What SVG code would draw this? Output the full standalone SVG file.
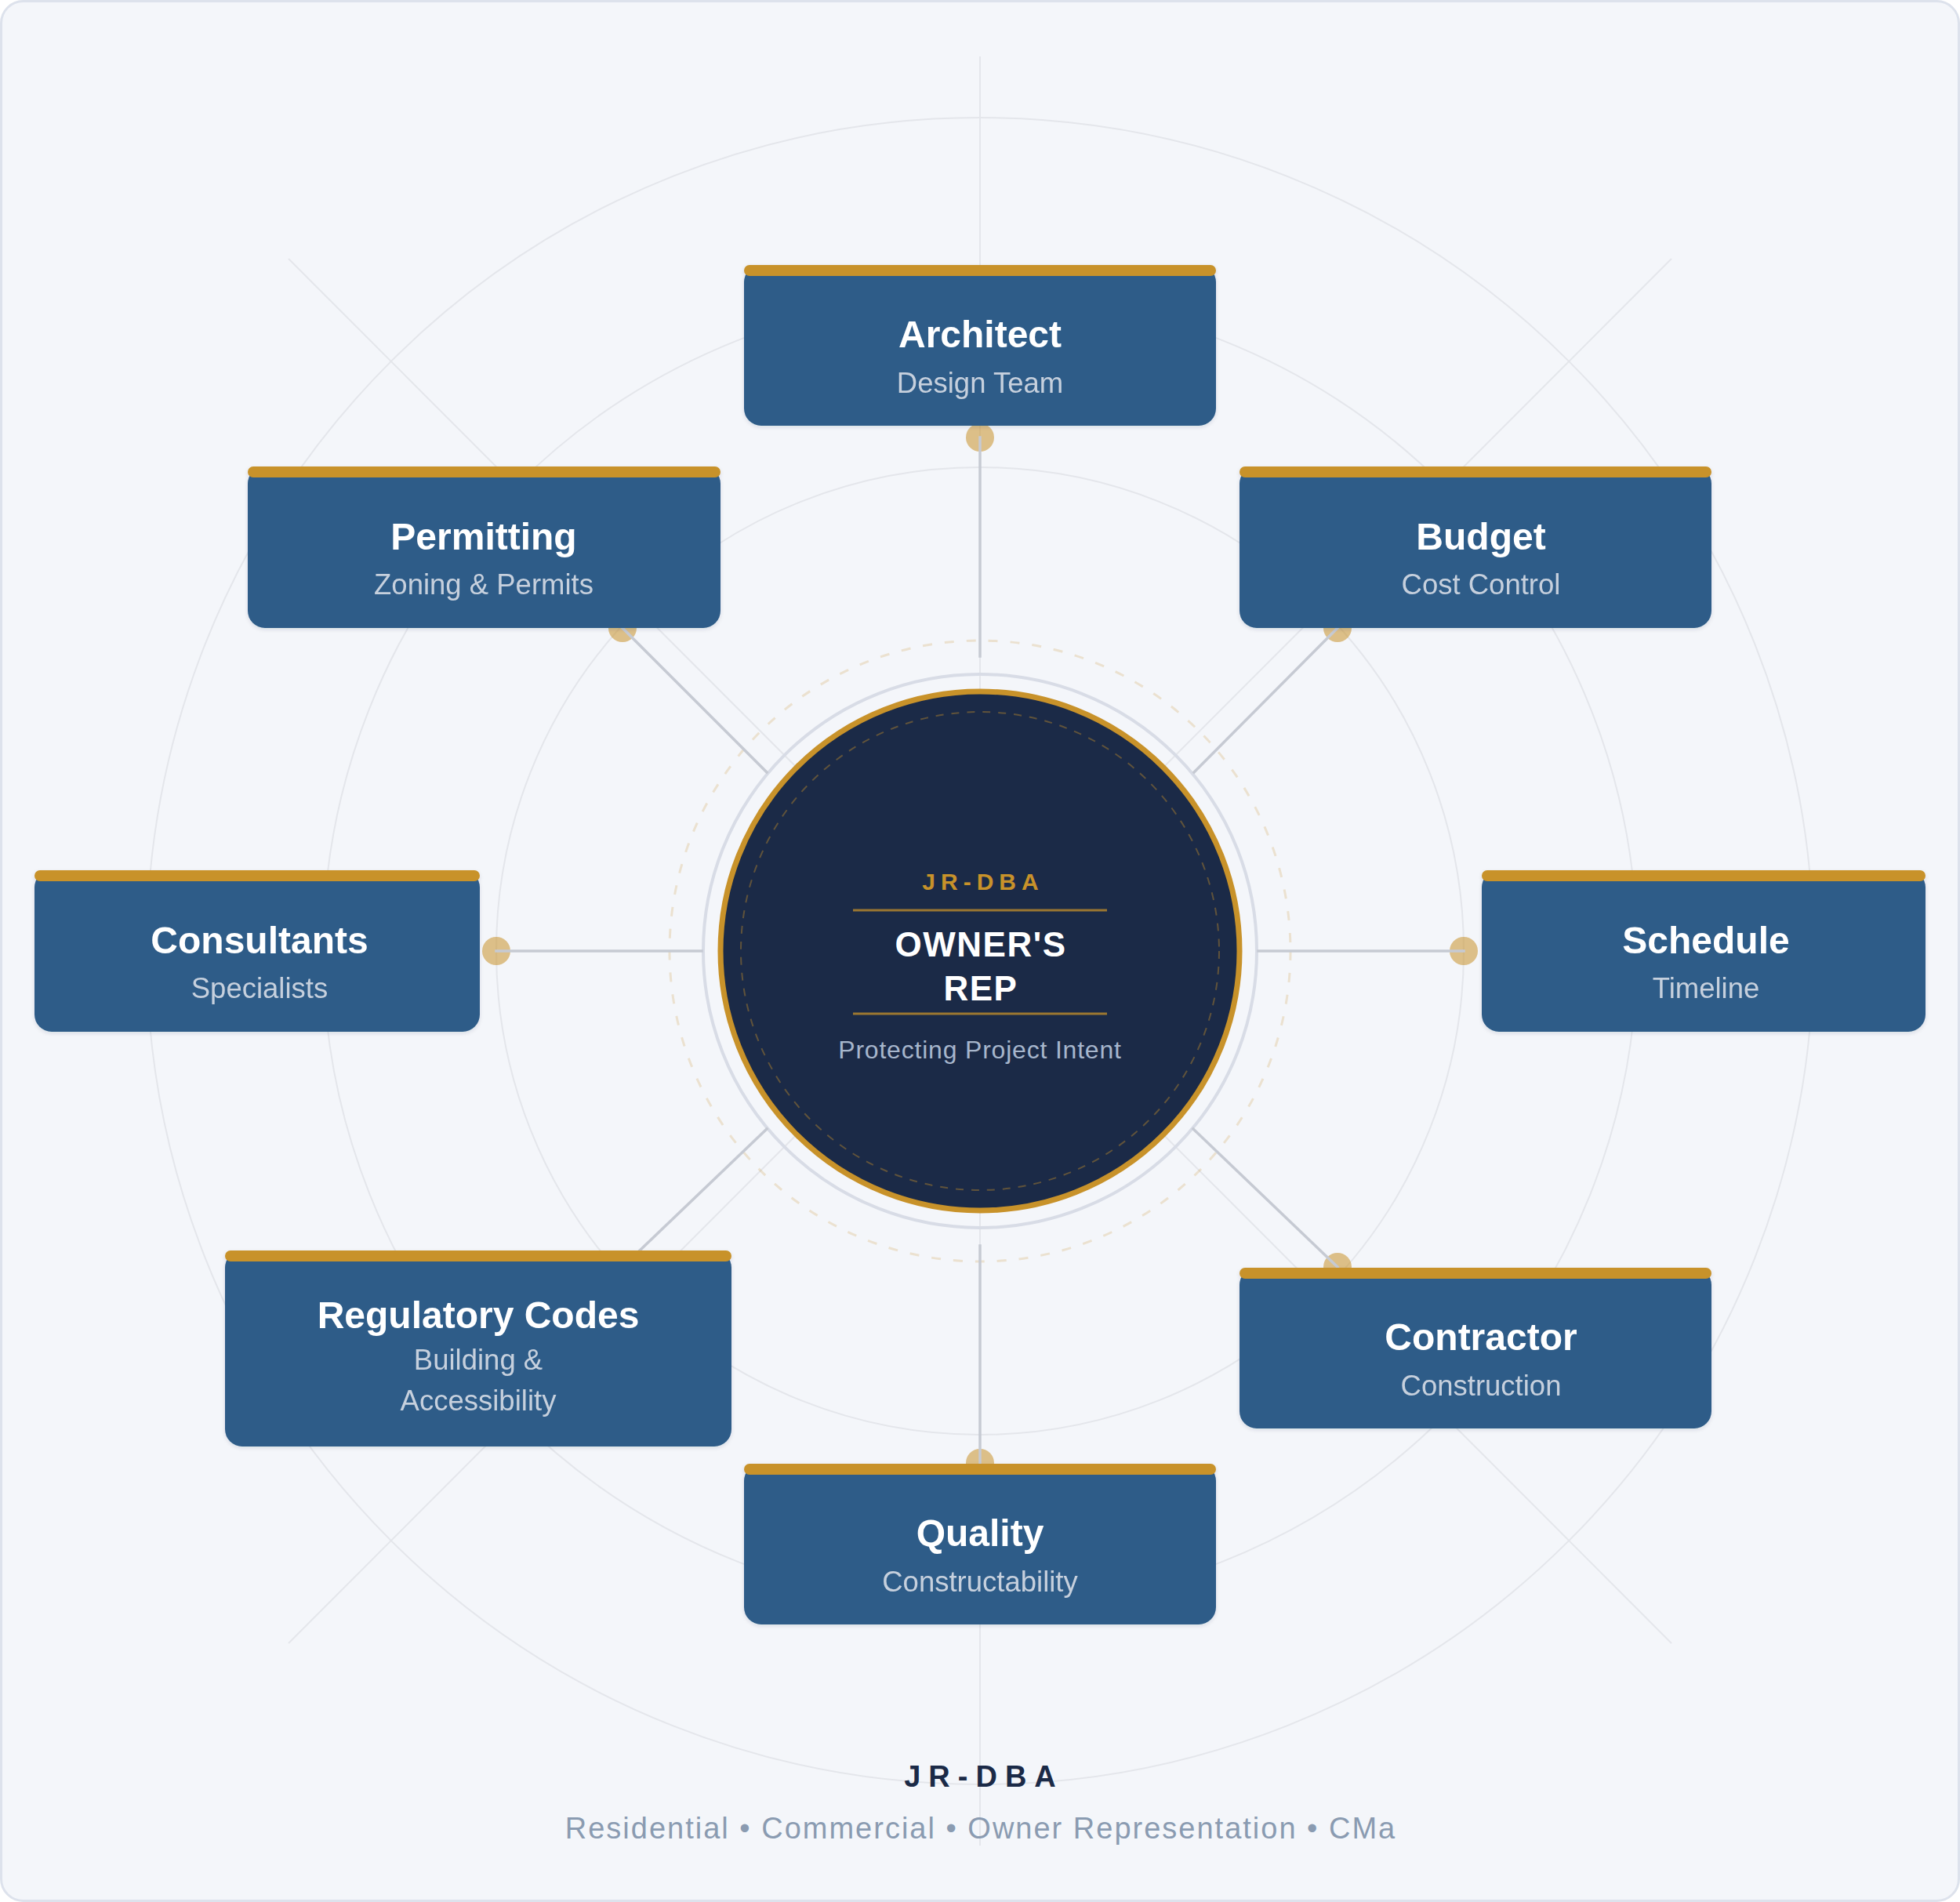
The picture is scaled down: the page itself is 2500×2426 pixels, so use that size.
<svg xmlns="http://www.w3.org/2000/svg" width="2500" height="2426" viewBox="0 0 2500 2426">
<defs>
<style>
.ring{fill:none;stroke:#e4e6eb;stroke-width:2}
.ray{stroke:#e4e6eb;stroke-width:2}
.conn{stroke:#c6cad3;stroke-width:3.5;stroke-linecap:square}
.dot{fill:#c8922a;fill-opacity:0.55}
.body{fill:#2d5b88}
.bar{fill:#c8922a}
.title{font-family:"Liberation Sans",Arial,sans-serif;font-weight:bold;font-size:48px;fill:#ffffff;text-anchor:middle}
.sub{font-family:"Liberation Sans",Arial,sans-serif;font-size:36.5px;fill:#c6d0dd;text-anchor:middle}
</style>
<filter id="sh" x="-5%" y="-10%" width="110%" height="130%">
<feDropShadow dx="0" dy="2" stdDeviation="2.5" flood-color="#1b2a47" flood-opacity="0.12"/>
</filter>
</defs>

<rect x="1.5" y="1.5" width="2497" height="2423" rx="28" fill="#f4f6fa" stroke="#dde2ec" stroke-width="3"/>

<g id="background">
<circle class="ring" cx="1250" cy="1213" r="1063"/>
<circle class="ring" cx="1250" cy="1213" r="838"/>
<circle class="ring" cx="1250" cy="1213" r="617"/>
<line class="ray" x1="1250" y1="72" x2="1250" y2="2354"/>
<line class="ray" x1="368" y1="330" x2="2132" y2="2096"/>
<line class="ray" x1="2132" y1="330" x2="368" y2="2096"/>
<circle cx="1250" cy="1213" r="396" fill="none" stroke="#c8922a" stroke-opacity="0.2" stroke-width="3" stroke-dasharray="12 16"/>
<circle cx="1250" cy="1213" r="353" fill="none" stroke="#d8dce6" stroke-width="4"/>
</g>

<g id="connectors">
<circle class="dot" cx="1250" cy="558" r="18"/>
<circle class="dot" cx="1706" cy="801" r="18"/>
<circle class="dot" cx="1867" cy="1213" r="18"/>
<circle class="dot" cx="1706" cy="1616" r="18"/>
<circle class="dot" cx="1250" cy="1866" r="18"/>
<circle class="dot" cx="794" cy="1616" r="18"/>
<circle class="dot" cx="633" cy="1213" r="18"/>
<circle class="dot" cx="794" cy="801" r="18"/>
<line class="conn" x1="1250" y1="837" x2="1250" y2="558"/>
<line class="conn" x1="1523" y1="985" x2="1706" y2="801"/>
<line class="conn" x1="1605" y1="1213" x2="1867" y2="1213"/>
<line class="conn" x1="1522" y1="1440" x2="1706" y2="1616"/>
<line class="conn" x1="1250" y1="1589" x2="1250" y2="1866"/>
<line class="conn" x1="978" y1="1440" x2="794" y2="1616"/>
<line class="conn" x1="895" y1="1213" x2="633" y2="1213"/>
<line class="conn" x1="978" y1="985" x2="794" y2="801"/>
</g>

<g id="center">
<circle cx="1250" cy="1213" r="331" fill="#1b2a47" stroke="#c8922a" stroke-width="7"/>
<circle cx="1250" cy="1213" r="305" fill="none" stroke="#c8922a" stroke-opacity="0.4" stroke-width="2" stroke-dasharray="10 10"/>
<text x="1254" y="1135" font-family="Liberation Sans, Arial, sans-serif" font-weight="bold" font-size="30" letter-spacing="7" fill="#c8922a" text-anchor="middle">JR-DBA</text>
<line x1="1088" y1="1161" x2="1412" y2="1161" stroke="#c8922a" stroke-opacity="0.75" stroke-width="3"/>
<text x="1251" y="1220" font-family="Liberation Sans, Arial, sans-serif" font-weight="bold" font-size="44" letter-spacing="1.5" fill="#ffffff" text-anchor="middle">OWNER'S</text>
<text x="1251" y="1276" font-family="Liberation Sans, Arial, sans-serif" font-weight="bold" font-size="44" letter-spacing="1.5" fill="#ffffff" text-anchor="middle">REP</text>
<line x1="1088" y1="1293" x2="1412" y2="1293" stroke="#c8922a" stroke-opacity="0.75" stroke-width="3"/>
<text x="1250" y="1350" font-family="Liberation Sans, Arial, sans-serif" font-size="32" letter-spacing="0.8" fill="#a7b6cc" text-anchor="middle">Protecting Project Intent</text>
</g>

<g id="node-architect" filter="url(#sh)">
<rect class="body" x="949" y="338" width="602" height="205" rx="22"/>
<rect class="bar" x="949" y="338" width="602" height="14" rx="7"/>
<text class="title" x="1250" y="443">Architect</text>
<text class="sub" x="1250" y="501">Design Team</text>
</g>

<g id="node-budget" filter="url(#sh)">
<rect class="body" x="1581" y="595" width="602" height="206" rx="22"/>
<rect class="bar" x="1581" y="595" width="602" height="14" rx="7"/>
<text class="title" x="1889" y="701">Budget</text>
<text class="sub" x="1889" y="758">Cost Control</text>
</g>

<g id="node-schedule" filter="url(#sh)">
<rect class="body" x="1890" y="1110" width="566" height="206" rx="22"/>
<rect class="bar" x="1890" y="1110" width="566" height="14" rx="7"/>
<text class="title" x="2176" y="1216">Schedule</text>
<text class="sub" x="2176" y="1273">Timeline</text>
</g>

<g id="node-contractor" filter="url(#sh)">
<rect class="body" x="1581" y="1617" width="602" height="205" rx="22"/>
<rect class="bar" x="1581" y="1617" width="602" height="14" rx="7"/>
<text class="title" x="1889" y="1722">Contractor</text>
<text class="sub" x="1889" y="1780">Construction</text>
</g>

<g id="node-quality" filter="url(#sh)">
<rect class="body" x="949" y="1867" width="602" height="205" rx="22"/>
<rect class="bar" x="949" y="1867" width="602" height="14" rx="7"/>
<text class="title" x="1250" y="1972">Quality</text>
<text class="sub" x="1250" y="2030">Constructability</text>
</g>

<g id="node-regulatory" filter="url(#sh)">
<rect class="body" x="287" y="1595" width="646" height="250" rx="22"/>
<rect class="bar" x="287" y="1595" width="646" height="14" rx="7"/>
<text class="title" x="610" y="1694">Regulatory Codes</text>
<text class="sub" x="610" y="1747">Building &amp;</text>
<text class="sub" x="610" y="1799">Accessibility</text>
</g>

<g id="node-consultants" filter="url(#sh)">
<rect class="body" x="44" y="1110" width="568" height="206" rx="22"/>
<rect class="bar" x="44" y="1110" width="568" height="14" rx="7"/>
<text class="title" x="331" y="1216">Consultants</text>
<text class="sub" x="331" y="1273">Specialists</text>
</g>

<g id="node-permitting" filter="url(#sh)">
<rect class="body" x="316" y="595" width="603" height="206" rx="22"/>
<rect class="bar" x="316" y="595" width="603" height="14" rx="7"/>
<text class="title" x="617" y="701">Permitting</text>
<text class="sub" x="617" y="758">Zoning &amp; Permits</text>
</g>

<g id="footer">
<text x="1255" y="2279" font-family="Liberation Sans, Arial, sans-serif" font-weight="bold" font-size="38" letter-spacing="10" fill="#1b2a47" text-anchor="middle">JR-DBA</text>
<text x="1251" y="2345" font-family="Liberation Sans, Arial, sans-serif" font-size="38" letter-spacing="2" fill="#8a9bb1" text-anchor="middle">Residential • Commercial • Owner Representation • CMa</text>
</g>
</svg>
